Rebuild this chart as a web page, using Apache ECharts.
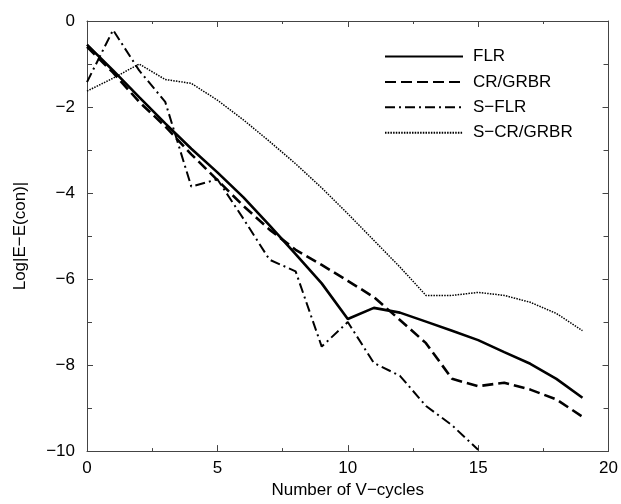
<!DOCTYPE html>
<html lang="en" style="height: 100%;width: 100%">
<head>
    <meta charset="UTF-8">
    <title>Log|E-E(con)| vs V-cycles</title>
    <script src="https://cdn.jsdelivr.net/npm/echarts@6/dist/echarts.min.js"></script>
</head>
<body style="height: 100%; margin: 0; background: #fff">
<div id="container" style="width: 621px; height: 504px"></div>
<script type="text/javascript">
    // values
    var cycles = [0, 1, 2, 3, 4, 5, 6, 7, 8, 9, 10, 11, 12, 13, 14, 15, 16, 17, 18, 19];
    var flr = [-0.55, -1.15, -1.77, -2.38, -2.97, -3.52, -4.1, -4.75, -5.42, -6.1, -6.93, -6.67, -6.78, -6.99, -7.2, -7.42, -7.7, -7.97, -8.32, -8.76];
    var crgrbr = [-0.6, -1.2, -1.88, -2.45, -3.1, -3.7, -4.3, -4.85, -5.32, -5.67, -6.04, -6.42, -6.95, -7.49, -8.32, -8.49, -8.41, -8.57, -8.8, -9.2];
    var sflr = [-1.42, -0.21, -1.15, -1.88, -3.85, -3.68, -4.6, -5.55, -5.82, -7.57, -7.0, -7.95, -8.25, -8.95, -9.4, -9.97];
    var scrgrbr = [-1.63, -1.33, -1.0, -1.36, -1.45, -1.84, -2.3, -2.8, -3.32, -3.88, -4.48, -5.1, -5.72, -6.38, -6.38, -6.31, -6.38, -6.54, -6.8, -7.2];

    function pairs(ys) {
        var out = [];
        for (var i = 0; i < ys.length; i++) {
            out.push([cycles[i], ys[i]]);
        }
        return out;
    }

    function minus(v) {
        return String(v).replace('-', '\u2212');
    }

    var font = 'Liberation Sans, Arial, sans-serif';
    var axisColor = '#444';

    var chart = echarts.init(document.getElementById('container'));
    var option = {
        backgroundColor: '#fff',
        animation: false,
        textStyle: {fontFamily: font, color: '#000'},
        grid: {left: 87, right: 12, top: 21, bottom: 48},
        legend: {
            left: 384,
            top: 48,
            padding: 0,
            orient: 'vertical',
            itemWidth: 78,
            itemHeight: 14,
            itemGap: 8.4,
            itemStyle: {opacity: 0},
            textStyle: {fontFamily: font, fontSize: 17, color: '#000', lineHeight: 14, padding: [0, 0, 0, 5]},
            data: ['FLR', 'CR/GRBR', 'S\u2212FLR', 'S\u2212CR/GRBR']
        },
        xAxis: [{
            type: 'value',
            min: 0, max: 20, interval: 5,
            name: 'Number of V\u2212cycles',
            nameLocation: 'middle',
            nameGap: 29,
            nameTextStyle: {fontFamily: font, fontSize: 17, color: '#000'},
            axisLine: {onZero: false, lineStyle: {color: axisColor, width: 1}},
            axisTick: {inside: true, length: 6, lineStyle: {color: axisColor}},
            minorTick: {show: true, splitNumber: 2, length: 3, lineStyle: {color: axisColor}},
            axisLabel: {fontFamily: font, fontSize: 17, color: '#000', margin: 9},
            splitLine: {show: false}
        }, {
            type: 'value',
            position: 'top',
            min: 0, max: 20, interval: 5,
            axisLine: {onZero: false, lineStyle: {color: axisColor, width: 1}},
            axisTick: {inside: true, length: 6, lineStyle: {color: axisColor}},
            minorTick: {show: true, splitNumber: 2, length: 3, lineStyle: {color: axisColor}},
            axisLabel: {show: false},
            splitLine: {show: false}
        }],
        yAxis: [{
            type: 'value',
            min: -10, max: 0, interval: 2,
            name: 'Log|E\u2212E(con)|',
            nameLocation: 'middle',
            nameGap: 58,
            nameTextStyle: {fontFamily: font, fontSize: 17, color: '#000'},
            axisLine: {show: true, onZero: false, lineStyle: {color: axisColor, width: 1}},
            axisTick: {show: true, inside: true, length: 6, lineStyle: {color: axisColor}},
            minorTick: {show: true, splitNumber: 2, length: 5, lineStyle: {color: axisColor}},
            axisLabel: {fontFamily: font, fontSize: 17, color: '#000', margin: 12, formatter: minus},
            splitLine: {show: false}
        }, {
            type: 'value',
            position: 'right',
            min: -10, max: 0, interval: 2,
            axisLine: {show: true, onZero: false, lineStyle: {color: axisColor, width: 1}},
            axisTick: {show: true, inside: true, length: 6, lineStyle: {color: axisColor}},
            minorTick: {show: true, splitNumber: 2, length: 5, lineStyle: {color: axisColor}},
            axisLabel: {show: false},
            splitLine: {show: false}
        }],
        series: [{
            name: 'FLR',
            type: 'line',
            symbol: 'none',
            data: pairs(flr),
            itemStyle: {color: '#000'},
            lineStyle: {color: '#000', width: 2.6, type: 'solid'}
        }, {
            name: 'CR/GRBR',
            type: 'line',
            symbol: 'none',
            data: pairs(crgrbr),
            itemStyle: {color: '#000'},
            lineStyle: {color: '#000', width: 2.6, type: [11, 5]}
        }, {
            name: 'S\u2212FLR',
            type: 'line',
            symbol: 'none',
            data: pairs(sflr),
            itemStyle: {color: '#000'},
            lineStyle: {color: '#000', width: 2, type: [10, 4, 2, 4]}
        }, {
            name: 'S\u2212CR/GRBR',
            type: 'line',
            symbol: 'none',
            data: pairs(scrgrbr),
            itemStyle: {color: '#000'},
            lineStyle: {color: '#000', width: 1.5, type: [1.5, 1.2]}
        }]
    };
    chart.setOption(option);
</script>
</body>
</html>
